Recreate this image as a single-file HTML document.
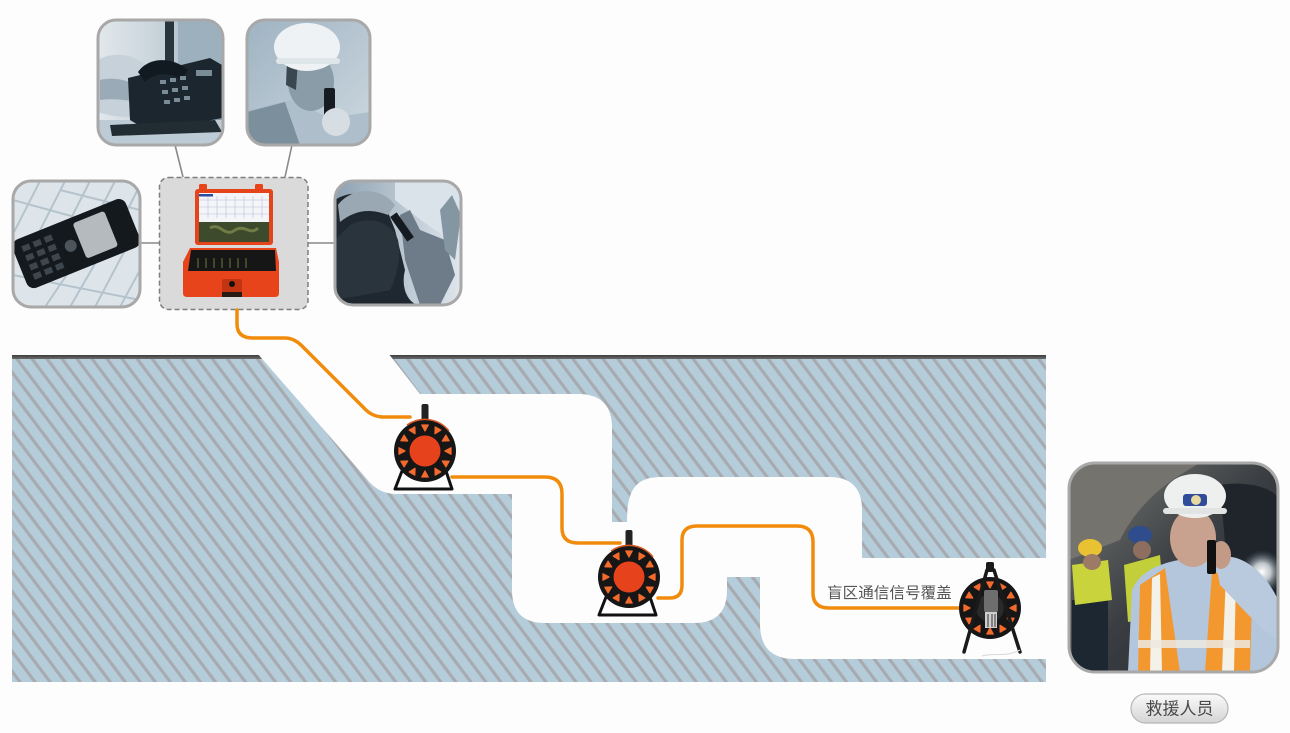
<!DOCTYPE html>
<html>
<head>
<meta charset="utf-8">
<style>
html,body{margin:0;padding:0;background:#fdfdfd;}
svg{display:block;}
text{font-family:"Liberation Sans","Noto Sans CJK SC","WenQuanYi Zen Hei",sans-serif;}
</style>
</head>
<body>
<svg width="1290" height="733" viewBox="0 0 1290 733" xmlns="http://www.w3.org/2000/svg">
<defs>
  <pattern id="hatch" width="12" height="12" patternUnits="userSpaceOnUse" patternTransform="rotate(-37)">
    <rect width="12" height="12" fill="#b5cdda"/>
    <rect width="3.2" height="12" fill="#a7abb0"/>
  </pattern>
  <linearGradient id="topline" x1="0" y1="0" x2="0" y2="1">
    <stop offset="0" stop-color="#3e3e3e"/><stop offset="1" stop-color="#707070"/>
  </linearGradient>
  <linearGradient id="btn" x1="0" y1="0" x2="0" y2="1">
    <stop offset="0" stop-color="#fafafa"/><stop offset="1" stop-color="#d4d4d4"/>
  </linearGradient>
  <linearGradient id="phbg" x1="0" y1="0" x2="1" y2="0">
    <stop offset="0" stop-color="#e2e8ec"/><stop offset="0.55" stop-color="#c3d0d8"/><stop offset="1" stop-color="#7f97a8"/>
  </linearGradient>
  <linearGradient id="wkbg" x1="0" y1="0" x2="1" y2="1">
    <stop offset="0" stop-color="#9fb3c2"/><stop offset="1" stop-color="#cdd8e0"/>
  </linearGradient>
  <linearGradient id="rtbg" x1="0" y1="0" x2="1" y2="0">
    <stop offset="0" stop-color="#8ea2b2"/><stop offset="1" stop-color="#dfe6ec"/>
  </linearGradient>
  <linearGradient id="tun" x1="0" y1="0" x2="1" y2="1">
    <stop offset="0" stop-color="#7a7a76"/><stop offset="0.5" stop-color="#3a3e42"/><stop offset="1" stop-color="#24292e"/>
  </linearGradient>
  <radialGradient id="glow" cx="0.5" cy="0.5" r="0.5">
    <stop offset="0" stop-color="#ffffff"/><stop offset="0.4" stop-color="#e8eef4" stop-opacity="0.8"/><stop offset="1" stop-color="#5a6a7a" stop-opacity="0"/>
  </radialGradient>
  <clipPath id="c1"><rect x="98" y="20" width="125" height="125" rx="18"/></clipPath>
  <clipPath id="c2"><rect x="247" y="20" width="123" height="125" rx="18"/></clipPath>
  <clipPath id="c3"><rect x="13" y="181" width="127" height="126" rx="18"/></clipPath>
  <clipPath id="c4"><rect x="335" y="181" width="126" height="124" rx="18"/></clipPath>
  <clipPath id="c5"><rect x="1069" y="463" width="209" height="209" rx="26"/></clipPath>
  <g id="tri"><polygon points="-3.2,-3 3.2,-3 0,3" fill="#f26a2c" stroke="#f26a2c" stroke-width="1.3" stroke-linejoin="round"/></g>
  <g id="ring">
    <circle r="31" fill="#161616"/>
    <use href="#tri" transform="rotate(0) translate(0,-23)"/>
    <use href="#tri" transform="rotate(30) translate(0,-23)"/>
    <use href="#tri" transform="rotate(60) translate(0,-23)"/>
    <use href="#tri" transform="rotate(90) translate(0,-23)"/>
    <use href="#tri" transform="rotate(120) translate(0,-23)"/>
    <use href="#tri" transform="rotate(150) translate(0,-23)"/>
    <use href="#tri" transform="rotate(180) translate(0,-23)"/>
    <use href="#tri" transform="rotate(210) translate(0,-23)"/>
    <use href="#tri" transform="rotate(240) translate(0,-23)"/>
    <use href="#tri" transform="rotate(270) translate(0,-23)"/>
    <use href="#tri" transform="rotate(300) translate(0,-23)"/>
    <use href="#tri" transform="rotate(330) translate(0,-23)"/>
  </g>
  <g id="reel">
    <path d="M-23,20 L-30,38 L27,38 L21,20" fill="none" stroke="#111" stroke-width="3" stroke-linejoin="round"/>
    <rect x="-3.5" y="-47" width="7" height="17" rx="2" fill="#222"/>
    <use href="#ring"/>
    <path d="M-18,-26 A31,31 0 0 1 24,-20" fill="none" stroke="#d8561e" stroke-width="1.5"/>
    <circle r="15.5" fill="#e6431c"/>
  </g>
</defs>

<!-- tunnel / hatched ground -->
<rect x="12" y="355" width="1034" height="4.5" fill="url(#topline)"/>
<rect x="12" y="359" width="1034" height="323" fill="url(#hatch)"/>
<path d="M257,353 L388,353 L420,394 L578,394 Q612,394 612,428 L612,522 L627,522 C627,490 635,477 662,477 L829,477 Q862,477 862,510 L862,558 L1050,558 L1050,659 L795,659 Q760,659 760,624 L760,577 L727,577 L727,590 Q727,623 694,623 L545,623 Q512,623 512,590 L512,494 L396,494 Q378,494 366,478 Z" fill="#fdfdfd"/>

<!-- connectors -->
<g stroke="#8a8a8a" stroke-width="1.6">
  <line x1="175" y1="145" x2="183" y2="177"/>
  <line x1="292" y1="145" x2="285" y2="177"/>
  <line x1="140" y1="243" x2="159" y2="243"/>
  <line x1="308" y1="243" x2="335" y2="243"/>
</g>

<!-- phone photo -->
<g clip-path="url(#c1)">
  <rect x="98" y="20" width="125" height="125" fill="url(#phbg)"/>
  <rect x="165" y="20" width="9" height="50" fill="#2a343c"/>
  <rect x="178" y="20" width="45" height="45" fill="#9db0bd"/>
  <rect x="98" y="120" width="125" height="25" fill="#bccbd5"/>
  <path d="M98,60 C115,50 140,55 150,70 L155,110 C140,120 115,118 98,112 Z" fill="#c6d1d9"/>
  <path d="M100,80 C120,75 140,85 150,95 L148,105 C130,100 115,98 100,100 Z" fill="#9aabb7"/>
  <path d="M128,78 L210,58 L222,65 L222,118 L150,132 L130,120 Z" fill="#1c262e"/>
  <path d="M138,72 C150,55 175,58 188,70 L182,80 C170,72 155,72 145,82 Z" fill="#111a20"/>
  <g fill="#7a8c98">
    <rect x="160" y="80" width="6" height="4"/><rect x="170" y="78" width="6" height="4"/><rect x="180" y="76" width="6" height="4"/>
    <rect x="162" y="90" width="6" height="4"/><rect x="172" y="88" width="6" height="4"/><rect x="182" y="86" width="6" height="4"/>
    <rect x="164" y="100" width="6" height="4"/><rect x="174" y="98" width="6" height="4"/><rect x="184" y="96" width="6" height="4"/>
    <rect x="196" y="70" width="16" height="6"/>
  </g>
  <path d="M110,125 L215,120 L222,132 L112,136 Z" fill="#222c33"/>
</g>
<rect x="98" y="20" width="125" height="125" rx="18" fill="none" stroke="#a8a8a8" stroke-width="3"/>

<!-- worker photo -->
<g clip-path="url(#c2)">
  <rect x="247" y="20" width="123" height="125" fill="url(#wkbg)"/>
  <path d="M247,110 L290,100 L330,118 L370,112 L370,145 L247,145 Z" fill="#aebfcb"/>
  <path d="M247,112 L285,102 L300,145 L247,145 Z" fill="#7b8f9c"/>
  <ellipse cx="311" cy="82" rx="23" ry="29" fill="#8a9ca8"/>
  <path d="M287,60 L298,60 L296,90 L286,85 Z" fill="#3a4650"/>
  <ellipse cx="307" cy="47" rx="33" ry="24" fill="#eef2f5"/>
  <rect x="276" y="58" width="64" height="6" rx="3" fill="#dfe6ea"/>
  <rect x="324" y="88" width="11" height="28" rx="2" fill="#161c22"/>
  <ellipse cx="336" cy="122" rx="14" ry="14" fill="#d6dee4"/>
</g>
<rect x="247" y="20" width="123" height="125" rx="18" fill="none" stroke="#a8a8a8" stroke-width="3"/>

<!-- mobile photo -->
<g clip-path="url(#c3)">
  <rect x="13" y="181" width="127" height="126" fill="#dde5ea"/>
  <g stroke="#b5c3cc" stroke-width="2" fill="none">
    <path d="M40,181 L10,240 M65,181 L30,250 M90,181 L60,240 M115,181 L95,220 M140,185 L120,225 M70,307 L100,255 M95,307 L125,250 M120,307 L140,270 M45,307 L70,270"/>
    <path d="M13,200 L140,235 M13,275 L140,300 M60,190 L140,210"/>
  </g>
  <g transform="rotate(-22 75 243)">
    <rect x="15" y="218" width="122" height="52" rx="8" fill="#14191d"/>
    <rect x="80" y="224" width="34" height="38" rx="3" fill="#b4babe"/>
    <circle cx="70" cy="244" r="6" fill="#4c555c"/>
    <g fill="#3d464d">
      <rect x="24" y="226" width="8" height="6"/><rect x="36" y="226" width="8" height="6"/><rect x="48" y="226" width="8" height="6"/>
      <rect x="24" y="236" width="8" height="6"/><rect x="36" y="236" width="8" height="6"/><rect x="48" y="236" width="8" height="6"/>
      <rect x="24" y="246" width="8" height="6"/><rect x="36" y="246" width="8" height="6"/><rect x="48" y="246" width="8" height="6"/>
      <rect x="24" y="256" width="8" height="6"/><rect x="36" y="256" width="8" height="6"/><rect x="48" y="256" width="8" height="6"/>
    </g>
  </g>
</g>
<rect x="13" y="181" width="127" height="126" rx="18" fill="none" stroke="#a8a8a8" stroke-width="3"/>

<!-- center device box -->
<rect x="159.5" y="177.5" width="148.5" height="132" rx="9" fill="#dadada" stroke="#7e7e7e" stroke-width="1.5" stroke-dasharray="5,3"/>
<g>
  <rect x="199" y="184" width="8" height="7" rx="1.5" fill="#e8441c"/>
  <rect x="255" y="184" width="8" height="7" rx="1.5" fill="#e8441c"/>
  <rect x="195" y="189" width="78" height="56" rx="3" fill="#e5431a"/>
  <rect x="199" y="193" width="70" height="29" fill="#f4f5f8"/>
  <g stroke="#b7bed6" stroke-width="0.6">
    <line x1="199" y1="200" x2="269" y2="200"/><line x1="199" y1="207" x2="269" y2="207"/><line x1="199" y1="214" x2="269" y2="214"/>
    <line x1="208" y1="196" x2="208" y2="218"/><line x1="217" y1="196" x2="217" y2="218"/><line x1="226" y1="196" x2="226" y2="218"/><line x1="235" y1="196" x2="235" y2="218"/><line x1="244" y1="196" x2="244" y2="218"/><line x1="253" y1="196" x2="253" y2="218"/><line x1="262" y1="196" x2="262" y2="218"/>
  </g>
  <rect x="199" y="194" width="14" height="2.5" fill="#2a4da0"/>
  <rect x="199" y="222" width="70" height="20" fill="#3e4a2c"/>
  <path d="M210,228 C220,222 225,238 235,230 C245,224 250,236 258,228" stroke="#6f7d45" stroke-width="3" fill="none"/>
  <path d="M183,262 L190,248 L276,248 L279,262 L279,293 Q279,297 275,297 L187,297 Q183,297 183,293 Z" fill="#e8441c"/>
  <path d="M191,250 L275,250 L276,271 L188,271 Z" fill="#161616"/>
  <g stroke="#5d6a3a" stroke-width="1.2">
    <line x1="198" y1="258" x2="198" y2="268"/><line x1="206" y1="258" x2="206" y2="268"/><line x1="214" y1="258" x2="214" y2="268"/><line x1="222" y1="258" x2="222" y2="268"/><line x1="230" y1="258" x2="230" y2="268"/><line x1="238" y1="258" x2="238" y2="268"/><line x1="246" y1="258" x2="246" y2="268"/>
  </g>
  <rect x="222" y="279" width="20" height="13" rx="2" fill="#c23412"/>
  <circle cx="232" cy="284" r="3" fill="#111"/>
  <rect x="222" y="292" width="20" height="5" fill="#2a1a14"/>
</g>

<!-- right top photo -->
<g clip-path="url(#c4)">
  <rect x="335" y="181" width="126" height="124" fill="url(#rtbg)"/>
  <path d="M395,181 L461,181 L461,245 C440,235 418,218 395,200 Z" fill="#dbe3ea"/>
  <path d="M335,200 C350,190 370,192 385,205 L395,230 L405,270 C400,290 410,305 420,305 L335,305 Z" fill="#1f2830"/>
  <path d="M338,205 C350,188 380,185 395,205 L388,215 C370,208 355,210 340,222 Z" fill="#9aa8b3"/>
  <path d="M350,225 C370,215 392,222 398,240 C402,260 395,280 390,290 L335,300 L335,240 Z" fill="#2a343d"/>
  <path d="M400,215 L410,210 L420,230 L445,240 L455,275 L440,305 L420,305 L405,260 Z" fill="#6d7c88"/>
  <rect x="398" y="212" width="8" height="30" transform="rotate(-35 402 227)" fill="#141a1f"/>
  <path d="M440,210 L452,195 L461,215 L455,260 L445,250 Z" fill="#8596a3"/>
</g>
<rect x="335" y="181" width="126" height="124" rx="18" fill="none" stroke="#a8a8a8" stroke-width="3"/>

<!-- cable -->
<g fill="none" stroke="#f18b0c" stroke-width="3.5" stroke-linecap="round" stroke-linejoin="round">
  <path d="M237,310 L237,324 Q237,338 253,338 L285,338 Q294,338 302,346 L364,408 Q372,417 384,417 L410,417"/>
  <path d="M452,477 L545,477 Q562,477 562,494 L562,528 Q562,543 578,543 L620,543"/>
  <path d="M658,598 L670,598 Q682,598 682,585 L682,540 Q682,526 697,526 L797,526 Q813,526 813,542 L813,593 Q813,608 829,608 L960,608"/>
</g>

<!-- reels -->
<use href="#reel" transform="translate(425,451)"/>
<use href="#reel" transform="translate(629,577)"/>

<!-- reel 3 -->
<g transform="translate(990,608)">
  <use href="#ring"/>
  <circle r="14" fill="#2a2a2a"/>
  <rect x="-6" y="-18" width="14" height="22" rx="2" fill="#6e6e6e"/>
  <rect x="-5" y="4" width="12" height="16" fill="#cfcfcf"/>
  <g stroke="#333" stroke-width="1"><line x1="-2" y1="6" x2="-2" y2="19"/><line x1="2" y1="6" x2="2" y2="19"/><line x1="5" y1="6" x2="5" y2="19"/></g>
  <g stroke="#1a1a1a" stroke-width="3.5" stroke-linecap="round">
    <line x1="-3" y1="-38" x2="-26" y2="44"/>
    <line x1="4" y1="-38" x2="30" y2="44"/>
  </g>
  <rect x="-4" y="-46" width="8" height="10" rx="2" fill="#1a1a1a"/>
  <path d="M-8,48 C5,44 15,50 30,42" stroke="#d8d8d8" stroke-width="1" fill="none"/>
</g>

<!-- label -->
<text x="827" y="598" font-size="15.6" fill="#555555">盲区通信信号覆盖</text>

<!-- rescue photo -->
<g clip-path="url(#c5)">
  <rect x="1069" y="463" width="209" height="209" fill="url(#tun)"/>
  <path d="M1069,463 L1200,463 C1170,480 1140,500 1120,540 L1069,560 Z" fill="#75736e"/>
  <path d="M1220,485 C1250,480 1278,490 1278,500 L1278,620 L1230,600 Z" fill="#1f252b"/>
  <circle cx="1262" cy="572" r="22" fill="url(#glow)"/>
  <rect x="1072" y="600" width="36" height="72" fill="#1d2731"/>
  <path d="M1072,565 L1108,560 L1112,600 L1075,605 Z" fill="#c9d43c"/>
  <ellipse cx="1090" cy="548" rx="12" ry="9" fill="#e8c233"/>
  <ellipse cx="1092" cy="562" rx="9" ry="8" fill="#9c7a66"/>
  <path d="M1124,565 L1160,555 L1165,615 L1128,622 Z" fill="#c2cf3a"/>
  <ellipse cx="1140" cy="535" rx="12" ry="9" fill="#2f4c8c"/>
  <ellipse cx="1142" cy="550" rx="9" ry="9" fill="#8e6e5e"/>
  <path d="M1128,672 L1132,590 C1140,570 1165,560 1195,558 C1230,560 1255,572 1270,600 L1278,620 L1278,672 Z" fill="#b4c6dc"/>
  <path d="M1138,672 L1140,585 L1165,568 L1180,672 Z" fill="#f3982f"/>
  <path d="M1150,672 L1152,578 L1160,574 L1162,672 Z" fill="#f4f1e8"/>
  <path d="M1205,672 L1212,572 L1238,575 L1252,600 L1250,672 Z" fill="#f3982f"/>
  <path d="M1222,672 L1226,574 L1236,576 L1234,672 Z" fill="#f4f1e8"/>
  <rect x="1138" y="640" width="112" height="8" fill="#ece9e0" opacity="0.85"/>
  <path d="M1215,560 C1235,548 1265,570 1278,600 L1278,640 C1260,630 1235,600 1220,585 Z" fill="#b9cadf"/>
  <ellipse cx="1193" cy="538" rx="23" ry="29" fill="#c8a28e"/>
  <ellipse cx="1221" cy="555" rx="10" ry="14" fill="#c29a86"/>
  <rect x="1207" y="540" width="9" height="34" rx="2" fill="#111"/>
  <ellipse cx="1195" cy="496" rx="31" ry="22" fill="#eef0f0"/>
  <rect x="1163" y="508" width="64" height="6" rx="3" fill="#e2e4e4"/>
  <rect x="1183" y="494" width="24" height="12" rx="3" fill="#2f4c9a"/>
  <circle cx="1196" cy="500" r="5" fill="#e6d8a0"/>
</g>
<rect x="1069" y="463" width="209" height="209" rx="26" fill="none" stroke="#a9a9a9" stroke-width="3"/>

<!-- button -->
<rect x="1131" y="694" width="97" height="29" rx="14.5" fill="url(#btn)" stroke="#b5b5b5" stroke-width="1.2"/>
<text x="1179.5" y="714.5" font-size="17" fill="#4a4a4a" text-anchor="middle">救援人员</text>
</svg>
</body>
</html>
